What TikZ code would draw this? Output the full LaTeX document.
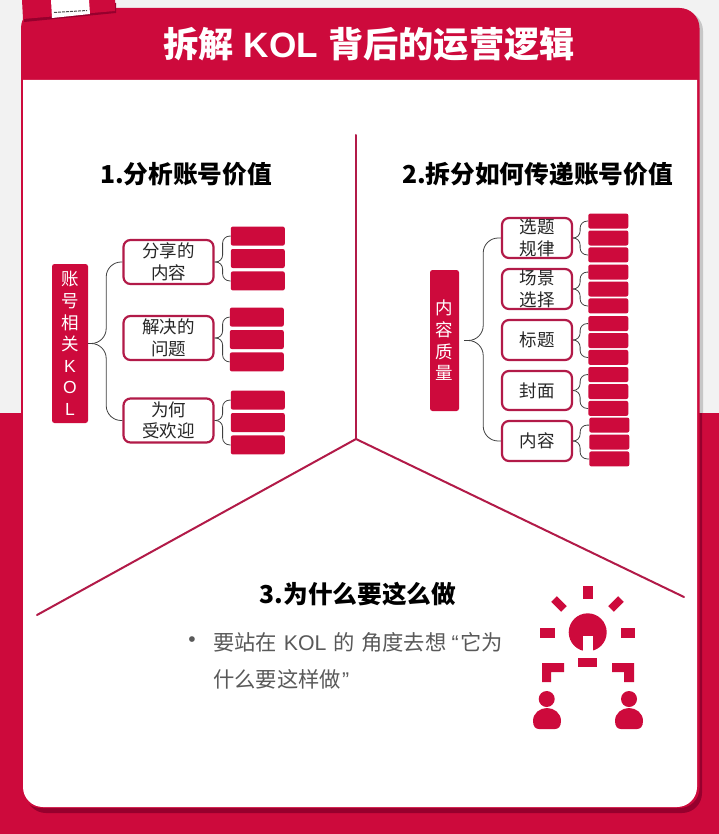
\documentclass[tikz,border=0pt]{standalone}
\usepackage{xcolor}
\usepackage{fontspec}
\setmainfont{Noto Sans CJK SC}
\newfontfamily\latin{Liberation Sans}
\usepackage{tikz}
\usetikzlibrary{positioning,calc}
\definecolor{maincolor}{RGB}{205,10,60}
\definecolor{linecolor}{RGB}{178,26,72}
\definecolor{shadecolor}{RGB}{150,0,45}
\definecolor{pagecolor}{RGB}{242,242,242}
\definecolor{textcolor}{RGB}{89,89,89}
\begin{document}
\begin{tikzpicture}[x=1pt,y=-1pt,
rootbox/.style={fill=maincolor,rounded corners=2.5pt,align=center,text=white,font=\fontsize{17.5}{21.6}\selectfont,inner sep=0pt},
midbox/.style={draw=linecolor,line width=2.2pt,fill=white,rounded corners=7pt,align=center,text=black!85,font=\fontsize{17.5}{21.5}\selectfont,inner sep=0pt},
leaf/.style={fill=maincolor,rounded corners=2pt,inner sep=0pt},
leafa/.style={leaf,minimum width=54pt,minimum height=19pt},
leafb/.style={leaf,minimum width=40pt,minimum height=15pt},
link/.style={draw=black!75,line width=0.8pt,rounded corners=7pt},
trunk/.style={link,rounded corners=15pt},
title/.style={font=\fontsize{24.7}{30}\selectfont\bfseries,text=black,inner sep=0pt},
split/.style={draw=linecolor,line width=2pt,line cap=round}]
\useasboundingbox (0,0) rectangle (719,834);
% page and card
\fill[pagecolor] (0,0) rectangle (719,413); \fill[black!22,rounded corners=20pt] (24,11) rectangle (703,440);
\fill[maincolor] (0,413) rectangle (719,834);
\fill[shadecolor] (26,413) [rounded corners=20pt] -- (26,813) -- (702,813) [sharp corners] -- (702,413) -- cycle;
\fill[maincolor,rounded corners=20pt] (21,8) rectangle (699.5,808);
\fill[white] (23,80) [rounded corners=20pt] -- (23,807) -- (697,807) [sharp corners] -- (697,80) -- cycle;
% tab at the top
\fill[shadecolor] (24,3) -- (116,3) -- (116,13) -- (24,22) -- cycle; \fill[maincolor] (22,0) -- (115,0) -- (115,11) -- (23,19) -- cycle;
\fill[white] (51,0) -- (89,0) -- (90,14) -- (52,18) -- cycle; \draw[black!70,line width=1pt,dash pattern=on 3pt off 1pt] (54,12.5) -- (87,10.5);
\node[font=\fontsize{35.2}{40}\selectfont\bfseries,text=white,inner sep=0pt](head) at (369,44){拆解\hspace{2pt} {\latin KOL} \hspace{2pt}背后的运营逻辑};
% dividers
\coordinate(hub) at (356,439); \coordinate(top) at (356,135); \coordinate(lft) at (37,615); \coordinate(rgt) at (684,597);
\draw[split](top)--(hub); \draw[split](lft)--(hub); \draw[split](rgt)--(hub);
\node[title](t1) at (186,174){1.分析账号价值}; \node[title](t2) at (537.5,174){2.拆分如何传递账号价值}; \node[title](t3) at (358,594){3.为什么要这么做};
% part 1
\node[rootbox,minimum width=36pt,minimum height=159pt](kol) at (70,343.5){账\\号\\相\\关\\{\latin K}\\{\latin O}\\{\latin L}};
\node[midbox,minimum width=90pt,minimum height=44pt](share) at (168.5,262){分享的\\内容};
\node[midbox,minimum width=90pt,minimum height=44pt](solve) at (168.5,338){解决的\\问题};
\node[midbox,minimum width=90pt,minimum height=44pt](popular) at (168.5,420.5){为何\\受欢迎};
\node[leafa,right=16pt of share,yshift=3.5pt](a2){}; \node[leafa,above=3pt of a2](a1){}; \node[leafa,below=3pt of a2](a3){};
\node[leafa,right=15pt of solve,yshift=-1.5pt](b2){}; \node[leafa,above=3pt of b2](b1){}; \node[leafa,below=3pt of b2](b3){};
\node[leafa,right=16pt of popular,yshift=-2pt](c2){}; \node[leafa,above=3pt of c2](c1){}; \node[leafa,below=3pt of c2](c3){};
\draw[trunk](kol.east)-- ++(18,0)|-(share.west); \draw[trunk](kol.east)-- ++(18,0)|-(popular.west);
\draw[link](share.east)-- ++(8,0)|-(a1.west); \draw[link](share.east)-- ++(8,0)|-(a3.west);
\draw[link](solve.east)-- ++(8,0)|-(b1.west); \draw[link](solve.east)-- ++(8,0)|-(b3.west);
\draw[link](popular.east)-- ++(8,0)|-(c1.west); \draw[link](popular.east)-- ++(8,0)|-(c3.west);
% part 2
\node[rootbox,minimum width=29pt,minimum height=141pt](quality) at (444.5,340.5){内\\容\\质\\量};
\node[midbox,minimum width=70pt,minimum height=40pt](pick) at (537,238){选题\\规律};
\node[midbox,minimum width=70pt,minimum height=40pt](scene) at (537,289){场景\\选择};
\node[midbox,minimum width=70pt,minimum height=40pt](headline) at (537,340){标题};
\node[midbox,minimum width=70pt,minimum height=39pt](cover) at (537,390.5){封面};
\node[midbox,minimum width=70pt,minimum height=40pt](body) at (537,441){内容};
\node[leafb,right=15pt of pick](d2){}; \node[leafb,above=1.5pt of d2](d1){}; \node[leafb,below=1.5pt of d2](d3){};
\node[leafb,right=15pt of scene](e2){}; \node[leafb,above=1.5pt of e2](e1){}; \node[leafb,below=1.5pt of e2](e3){};
\node[leafb,right=15pt of headline,yshift=-0.5pt](f2){}; \node[leafb,above=1.5pt of f2](f1){}; \node[leafb,below=1.5pt of f2](f3){};
\node[leafb,right=15pt of cover,yshift=-1pt](g2){}; \node[leafb,above=1.5pt of g2](g1){}; \node[leafb,below=1.5pt of g2](g3){};
\node[leafb,right=16pt of body,yshift=-1pt](h2){}; \node[leafb,above=1.5pt of h2](h1){}; \node[leafb,below=1.5pt of h2](h3){};
\draw[trunk,shorten <=5pt](quality.east)-- ++(24,0)|-(pick.west); \draw[trunk,shorten <=5pt](quality.east)-- ++(24,0)|-(body.west);
\draw[link](pick.east)-- ++(7,0)|-(d1.west); \draw[link](pick.east)-- ++(7,0)|-(d3.west);
\draw[link](scene.east)-- ++(7,0)|-(e1.west); \draw[link](scene.east)-- ++(7,0)|-(e3.west);
\draw[link](headline.east)-- ++(7,0)|-(f1.west); \draw[link](headline.east)-- ++(7,0)|-(f3.west);
\draw[link](cover.east)-- ++(7,0)|-(g1.west); \draw[link](cover.east)-- ++(7,0)|-(g3.west);
\draw[link](body.east)-- ++(7,0)|-(h1.west); \draw[link](body.east)-- ++(7,0)|-(h3.west);
% part 3
\node[anchor=west,align=left,text=textcolor,font=\fontsize{21.3}{37}\selectfont,inner sep=0pt](why) at (213,660.5){要站在\hspace{2pt} {\latin KOL} \hspace{2pt}的\hspace{2pt} 角度去想\hspace{5pt}{\latin “}\hspace{2pt}它为\\什么要这样做\hspace{1pt}{\latin ”}};
\node[text=textcolor,font=\latin\fontsize{21}{24}\selectfont,inner sep=0pt](dot) at (192,642){•};
% icon
\fill[maincolor] (587.7,632.3) circle (19); \fill[white] (583,636) rectangle (593,653);
\fill[maincolor] (583,586) rectangle (593,599); \fill[maincolor] (540,628) rectangle (555,638); \fill[maincolor] (621,628) rectangle (635,638); \fill[maincolor] (578,658) rectangle (597,667);
\fill[maincolor,rotate around={-45:(559,604)}] (552,600) rectangle (566,608); \fill[maincolor,rotate around={45:(616,604)}] (609,600) rectangle (623,608);
\fill[maincolor] (542,663) -- (564,663) -- (564,672) -- (551,672) -- (551,682) -- (542,682) -- cycle; \fill[maincolor] (634,663) -- (612,663) -- (612,672) -- (624,672) -- (624,682) -- (634,682) -- cycle;
\fill[maincolor] (546.7,699) circle (8); \fill[maincolor] (629,699) circle (8);
\fill[maincolor] (533,721) .. controls (533,713) and (540,708) .. (547,708) .. controls (554,708) and (561,713) .. (561,721) .. controls (561,727) and (558,729) .. (555,729) -- (539,729) .. controls (536,729) and (533,727) .. (533,721) -- cycle;
\fill[maincolor] (615,721) .. controls (615,713) and (622,708) .. (629,708) .. controls (636,708) and (643,713) .. (643,721) .. controls (643,727) and (640,729) .. (637,729) -- (621,729) .. controls (618,729) and (615,727) .. (615,721) -- cycle;
\end{tikzpicture}
\end{document}
